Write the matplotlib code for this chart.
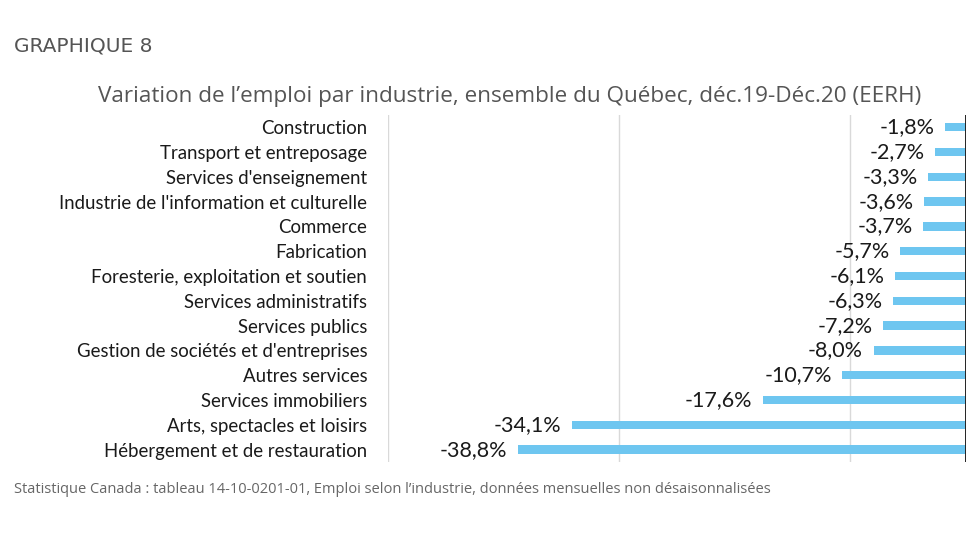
import matplotlib.pyplot as plt
import numpy as np

industries = [
    "Construction",
    "Transport et entreposage",
    "Services d'enseignement",
    "Industrie de l'information et culturelle",
    "Commerce",
    "Fabrication",
    "Foresterie, exploitation et soutien",
    "Services administratifs",
    "Services publics",
    "Gestion de sociétés et d'entreprises",
    "Autres services",
    "Services immobiliers",
    "Arts, spectacles et loisirs",
    "Hébergement et de restauration",
]
variation = [-1.8, -2.7, -3.3, -3.6, -3.7, -5.7, -6.1, -6.3, -7.2, -8.0, -10.7, -17.6, -34.1, -38.8]

plt.rcParams['font.family'] = ['Lato', 'DejaVu Sans']

fig = plt.figure(figsize=(9.8, 5.52), dpi=100)
ax = fig.add_axes([0.396, 0.163, 0.5897, 0.629])

y = np.arange(len(industries))
ax.barh(y, variation, height=0.34, color='#6EC6F0', zorder=2)

# étiquettes de valeurs (virgule décimale)
for yi, v in zip(y, variation):
    lab = f"{v:.1f}%".replace(".", ",")
    ax.text(v - 0.9, yi, lab, ha='right', va='center', fontsize=15.5, color='#1a1a1a')

ax.set_xlim(-50, 0)
ax.set_ylim(len(industries) - 0.5, -0.5)
ax.set_xticks([-50, -30, -10])
ax.xaxis.grid(True, color='#d9d9d9', linewidth=1, zorder=0)
ax.tick_params(axis='x', length=0, labelbottom=False)
ax.set_yticks(y)
ax.set_yticklabels(industries, fontsize=13.4, color='#1a1a1a')
ax.tick_params(axis='y', length=0, pad=15)
for s in ['top', 'left', 'bottom', 'right']:
    ax.spines[s].set_visible(False)
ax.axvline(0, color='#222222', linewidth=1.4, zorder=3)

fig.text(0.014, 0.917, "GRAPHIQUE 8", fontsize=14.5, color='#555555', va='center',
         family=['DejaVu Sans'])
fig.text(0.52, 0.826, "Variation de l’emploi par industrie, ensemble du Québec, déc.19-Déc.20 (EERH)",
         fontsize=16.2, color='#555555', ha='center', va='center', family=['Open Sans', 'DejaVu Sans'])
fig.text(0.014, 0.114, "Statistique Canada : tableau 14-10-0201-01, Emploi selon l’industrie, données mensuelles non désaisonnalisées",
         fontsize=10.5, color='#666666', va='center', family=['Open Sans', 'DejaVu Sans'])

fig.savefig("out.png", dpi=100)
